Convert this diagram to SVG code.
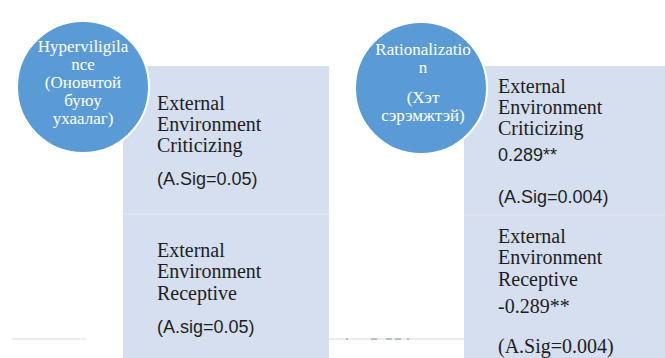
<svg xmlns="http://www.w3.org/2000/svg" width="665" height="358" viewBox="0 0 665 358">
<style>
.box{fill:#D5DFEF}
.sep{stroke:#DEE5F1;stroke-width:2}
.circ{fill:#5B9BD5;stroke:#FFFFFF;stroke-width:2}
.ct{font-family:"Liberation Serif","Times New Roman",serif;font-size:17px;fill:#FFFFFF;text-anchor:middle}
.st{font-family:"Liberation Serif","Times New Roman",serif;font-size:20px;fill:#1E1E1E}
.ss{font-family:"Liberation Sans",Arial,sans-serif;font-size:18px;fill:#1E1E1E}
.ghost{stroke:#E3E6EB;stroke-width:1.5}
.smudge{fill:#B9BDC4}
</style>
<rect width="665" height="358" fill="#FFFFFF"/>
<g id="artifacts">
<line class="ghost" x1="12" y1="339" x2="86" y2="339"/>
<line class="ghost" x1="123" y1="339" x2="620" y2="339"/>
<rect class="smudge" x="316" y="338" width="2" height="2"/>
<rect class="smudge" x="324" y="338" width="3" height="2"/>
<rect class="smudge" x="346" y="338" width="2" height="2"/>
<rect class="smudge" x="371" y="338" width="6" height="2"/>
<rect class="smudge" x="386" y="338" width="6" height="2"/>
<rect class="smudge" x="395" y="338" width="6" height="2"/>
<rect class="smudge" x="407" y="338" width="2" height="2"/>
</g>
<g id="box-hyper">
<rect class="box" x="123" y="66" width="206" height="292"/>
<line class="sep" x1="123" y1="214" x2="329" y2="214"/>
<text class="st" x="157" y="110">External</text>
<text class="st" x="157" y="131">Environment</text>
<text class="st" x="157" y="152">Criticizing</text>
<text class="ss" x="157" y="185">(A.Sig=0.05)</text>
<text class="st" x="157" y="257">External</text>
<text class="st" x="157" y="278">Environment</text>
<text class="st" x="157" y="300">Receptive</text>
<text class="ss" x="157" y="333">(A.sig=0.05)</text>
</g>
<g id="box-rational">
<rect class="box" x="464" y="66" width="201" height="292"/>
<line class="sep" x1="464" y1="215" x2="665" y2="215"/>
<text class="st" x="498" y="93">External</text>
<text class="st" x="498" y="114">Environment</text>
<text class="st" x="498" y="135">Criticizing</text>
<text class="ss" x="498" y="161">0.289**</text>
<text class="ss" x="498" y="203">(A.Sig=0.004)</text>
<text class="st" x="498" y="243">External</text>
<text class="st" x="498" y="264">Environment</text>
<text class="st" x="498" y="286">Receptive</text>
<text class="st" x="498" y="313">-0.289**</text>
<text class="st" x="498" y="353">(A.Sig=0.004)</text>
</g>
<g id="circle-hyper">
<circle class="circ" cx="83" cy="87" r="66"/>
<text class="ct" x="83" y="52">Hyperviligila</text>
<text class="ct" x="83" y="70">nce</text>
<text class="ct" x="83" y="88">(Оновчтой</text>
<text class="ct" x="83" y="106">буюу</text>
<text class="ct" x="83" y="124">ухаалаг)</text>
</g>
<g id="circle-rational">
<circle class="circ" cx="421" cy="88" r="66"/>
<text class="ct" x="423" y="55">Rationalizatio</text>
<text class="ct" x="423" y="73">n</text>
<text class="ct" x="423" y="103">(Хэт</text>
<text class="ct" x="423" y="121">сэрэмжтэй)</text>
</g>
<g id="connectors"></g>
</svg>
